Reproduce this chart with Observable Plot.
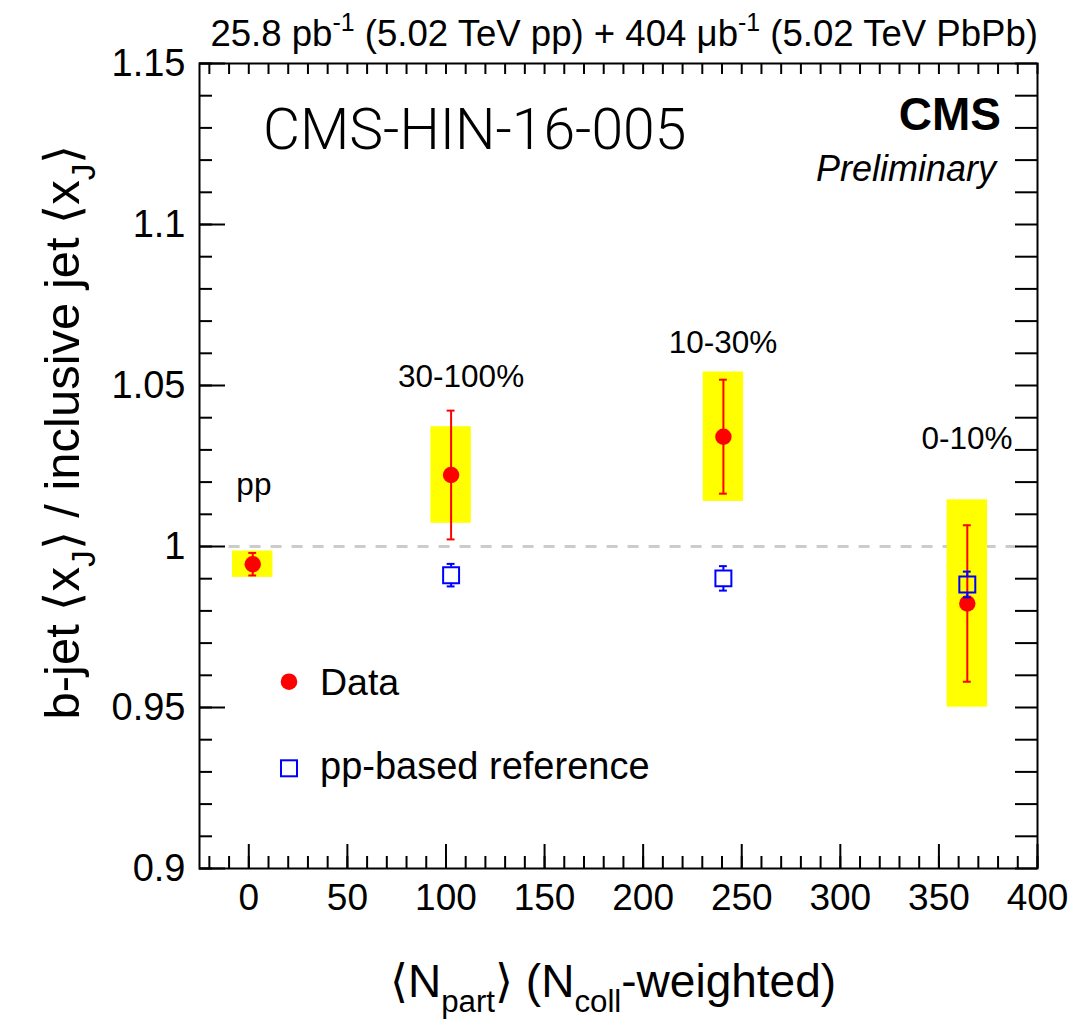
<!DOCTYPE html>
<html><head><meta charset="utf-8">
<script src="https://cdn.jsdelivr.net/npm/d3@7"></script>
<script src="https://cdn.jsdelivr.net/npm/@observablehq/plot@0.6"></script>
<style>body{margin:0;background:#fff} svg{display:block}</style>
</head><body><div id="chart"></div>
<script>
// ---- data ----
const categories = ["pp", "30-100%", "10-30%", "0-10%"];
const npart      = [2, 102.6, 240.7, 364.4];
const dataValue  = [0.9945, 1.0222, 1.0341, 0.9823];
const statError  = [0.0035, 0.0200, 0.0177, 0.0243];
const systError  = [0.0041, 0.0150, 0.0201, 0.0322];
const refNpart   = [102.6, 240.7, 364.4];
const refValue   = [0.9911, 0.9901, 0.9882];
const refError   = [0.0035, 0.0038, 0.0040];
const labelX     = [-6.3, 75.7, 213, 341.2];
const labelY     = [1.0159, 1.0494, 1.0602, 1.0304];
const xTicks     = [0, 50, 100, 150, 200, 250, 300, 350, 400];
const xTickLabels= ["0", "50", "100", "150", "200", "250", "300", "350", "400"];
const yTicks     = [0.9, 0.95, 1, 1.05, 1.1, 1.15];
const yTickLabels= ["0.9", "0.95", "1", "1.05", "1.1", "1.15"];
const xMinor = d3.range(-20, 401, 10);
const yMinor = d3.range(90, 116).map(d => d / 100);

const rows = categories.map((c, i) => ({c, x: npart[i], v: dataValue[i], stat: statError[i], sys: systError[i], lx: labelX[i], ly: labelY[i]}));
const refs = refNpart.map((x, i) => ({x, v: refValue[i], e: refError[i]}));

// ---- layout ----
const W = 1092, H = 1019, mL = 199, mR = 55, mT = 63, mB = 151;
const pw = W - mL - mR, ph = H - mT - mB;
const FONT = "'Liberation Sans', Arial, Helvetica, sans-serif";
const boxHalf = 10.25, capHalf = 2;

const chart = Plot.plot({
  width: W, height: H,
  marginLeft: mL, marginRight: mR, marginTop: mT, marginBottom: mB,
  style: {fontFamily: FONT, background: "white", color: "black", overflow: "visible"},
  x: {domain: [-25, 400]},
  y: {domain: [0.9, 1.15]},
  marks: [
    Plot.ruleY([1], {x1: -10, x2: 395, stroke: "#cccccc", strokeWidth: 3, strokeDasharray: "11,10"}),
    Plot.rect(rows, {x1: d => d.x - boxHalf, x2: d => d.x + boxHalf, y1: d => d.v - d.sys, y2: d => d.v + d.sys, fill: "#ffff00"}),
    Plot.ruleX(rows, {x: "x", y1: d => d.v - d.stat, y2: d => d.v + d.stat, stroke: "#ff0000", strokeWidth: 2}),
    Plot.ruleY(rows, {y: d => d.v + d.stat, x1: d => d.x - capHalf, x2: d => d.x + capHalf, stroke: "#ff0000", strokeWidth: 2}),
    Plot.ruleY(rows, {y: d => d.v - d.stat, x1: d => d.x - capHalf, x2: d => d.x + capHalf, stroke: "#ff0000", strokeWidth: 2}),
    Plot.dot(rows, {x: "x", y: "v", r: 8.2, fill: "#ff0000", stroke: "none"}),
    Plot.ruleX(refs, {x: "x", y1: d => d.v + d.e, y2: "v", insetBottom: 8, stroke: "#0000ff", strokeWidth: 2}),
    Plot.ruleX(refs, {x: "x", y1: "v", y2: d => d.v - d.e, insetTop: 8, stroke: "#0000ff", strokeWidth: 2}),
    Plot.ruleY(refs, {y: d => d.v + d.e, x1: d => d.x - capHalf, x2: d => d.x + capHalf, stroke: "#0000ff", strokeWidth: 2}),
    Plot.ruleY(refs, {y: d => d.v - d.e, x1: d => d.x - capHalf, x2: d => d.x + capHalf, stroke: "#0000ff", strokeWidth: 2}),
    Plot.dot(refs, {x: "x", y: "v", symbol: "square", r: 9, fill: "none", stroke: "#0000ff", strokeWidth: 2}),
    Plot.text(rows, {x: "lx", y: "ly", text: "c", textAnchor: "start", lineAnchor: "bottom", fontSize: 31.5, fill: "black"}),
    // ticks (inside the frame)
    Plot.tickY(yMinor, {y: d => d, insetRight: pw - 13, stroke: "black", strokeWidth: 2}),
    Plot.tickY(yTicks, {y: d => d, insetRight: pw - 26, stroke: "black", strokeWidth: 2}),
    Plot.tickY(yMinor, {y: d => d, insetLeft: pw - 22, stroke: "black", strokeWidth: 2}),
    Plot.tickX(xMinor, {x: d => d, insetTop: ph - 12, stroke: "black", strokeWidth: 2}),
    Plot.tickX(xTicks, {x: d => d, insetTop: ph - 24, stroke: "black", strokeWidth: 2}),
    Plot.tickX(xMinor, {x: d => d, insetBottom: ph - 11, stroke: "black", strokeWidth: 2}),
    Plot.axisY({ticks: yTicks, tickFormat: d => yTickLabels[yTicks.indexOf(d)], tickSize: 0, tickPadding: 14, fontSize: 38, label: null}),
    Plot.axisX({ticks: xTicks, tickFormat: d => xTickLabels[xTicks.indexOf(d)], tickSize: 0, tickPadding: 15, fontSize: 37, label: null}),
    Plot.frame({stroke: "black", strokeWidth: 2})
  ]
});
document.getElementById("chart").append(chart);

const svg = d3.select(chart);

function rich(x, y, parts, opts = {}) {
  const size = opts.size || 36;
  const t = svg.append("text")
    .attr("x", x).attr("y", y)
    .attr("font-family", opts.family || FONT)
    .attr("font-size", size)
    .attr("font-weight", opts.weight || "normal")
    .attr("font-style", opts.style || "normal")
    .attr("text-anchor", opts.anchor || "start")
    .attr("fill", "black");
  if (opts.transform) t.attr("transform", opts.transform);
  let shift = 0;
  for (const p of parts) {
    const s = t.append("tspan").text(p.t);
    let target = 0;
    if (p.sub) { target = size * 0.32; s.attr("font-size", size * 0.68); }
    if (p.sup) { target = -size * 0.40; s.attr("font-size", size * 0.68); }
    s.attr("dy", target - shift);
    shift = target;
  }
  return t;
}

// header
rich(1038, 46, [{t: "25.8 pb"}, {t: "-1", sup: true}, {t: " (5.02 TeV pp) + 404 \u03bcb"}, {t: "-1", sup: true}, {t: " (5.02 TeV PbPb)"}], {size: 36.6, anchor: "end"});
rich(263, 149, [{t: "CMS-HIN-16-005"}], {size: 57, family: "Roboto, 'Liberation Sans', sans-serif", weight: 300});
rich(1001, 129.5, [{t: "CMS"}], {size: 46, weight: "bold", anchor: "end"});
rich(996, 181, [{t: "Preliminary"}], {size: 36, style: "italic", anchor: "end"});

// axis titles
rich(613, 997, [{t: "\u27e8N"}, {t: "part", sub: true}, {t: "\u27e9 (N"}, {t: "coll", sub: true}, {t: "-weighted)"}], {size: 46, anchor: "middle"});
rich(0, 0, [{t: "b-jet \u27e8x"}, {t: "J", sub: true}, {t: "\u27e9 / inclusive jet \u27e8x"}, {t: "J", sub: true}, {t: "\u27e9"}], {size: 49, anchor: "middle", transform: "translate(79,432) rotate(-90)"});

// legend
svg.append("circle").attr("cx", 289).attr("cy", 681.7).attr("r", 8.3).attr("fill", "#ff0000");
svg.append("rect").attr("x", 281).attr("y", 760.3).attr("width", 16).attr("height", 16).attr("fill", "none").attr("stroke", "#0000ff").attr("stroke-width", 2);
rich(320, 695, [{t: "Data"}], {size: 37.5});
rich(320, 779, [{t: "pp-based reference"}], {size: 38});
</script>
</body></html>
